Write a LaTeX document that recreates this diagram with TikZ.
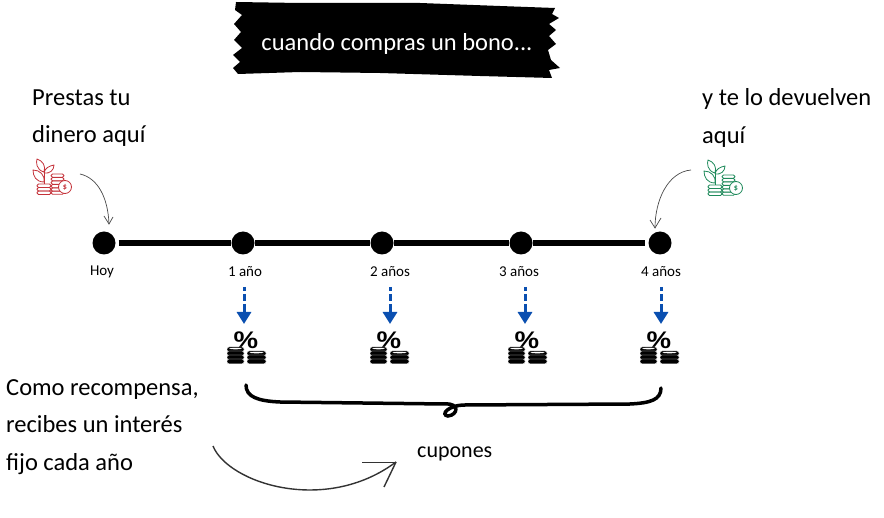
\documentclass[tikz,border=0pt]{standalone}
\usepackage{fontspec}
\setmainfont{Carlito}
\newfontfamily\percentfont{Liberation Sans}
\usetikzlibrary{arrows.meta}
\definecolor{iconred}{HTML}{C4323A}
\definecolor{icongreen}{HTML}{1F8A5B}
\definecolor{dropblue}{HTML}{0A4FB0}
\definecolor{sketchgray}{HTML}{4A4A4A}
\tikzset{
  bigtext/.style={anchor=west,align=left,font=\fontsize{24.5}{37.5}\selectfont,inner sep=0pt},
  yeartext/.style={font=\fontsize{15}{18}\selectfont,inner sep=0pt},
  dot/.style={circle,fill=black,minimum size=23,inner sep=0pt},
  drop/.style={dropblue,line width=3,dash pattern=on 4pt off 3pt on 7pt off 3pt on 30pt,-{Triangle[length=12,width=14]}},
  sketch/.style={sketchgray,line width=0.7},
  pics/plantcoins/.style={code={
    \begin{scope}[#1,line width=0.8,line join=round]
      % plant
      \draw (10,26) -- (10,10);
      \draw (10,14) .. controls (2,12) and (2,4) .. (3,1) .. controls (9,3) and (12,8) .. (10,14);
      \draw (10,24) .. controls (2,24) and (-1,18) .. (-1,12) .. controls (6,12) and (11,17) .. (10,24);
      \draw (10,15) .. controls (11,10) and (15,8) .. (20,7) .. controls (20,12) and (16,16) .. (10,15);
      % coins
      \foreach \cy in {26,29.5,33}
        \draw[rounded corners=1.5] (3,\cy) rectangle (17,\cy+3.5);
      \foreach \cy in {16,19.5,23,26.5,30,33}
        \draw[rounded corners=1.5] (17,\cy) rectangle (30,\cy+3.3);
      \draw[fill=white] (31,29) circle (6.5);
      \node[font=\fontsize{8}{8}\selectfont\bfseries,text=#1,inner sep=0pt] at (31,29) {\$};
    \end{scope}
  }},
  pics/percentcoins/.style={code={
    \node[xscale=1.15,font=\fontsize{24}{24}\selectfont\bfseries\percentfont,inner sep=0pt] at (0,-6.5) {\%};
    \foreach \cy in {0,4,8,12}
      \draw[fill=black,draw=white,line width=0.4,rounded corners=2] (-19,\cy) rectangle (-2,\cy+4.8);
    \foreach \cy in {4,8,12}
      \draw[fill=black,draw=white,line width=0.4,rounded corners=2] (1,\cy) rectangle (20,\cy+4.8);
    \fill[white] (-10.5,1.6) ellipse (6.5 and 0.7);
    \fill[white] (10.5,5.6) ellipse (7 and 0.7);
  }}
}
\begin{document}
\begin{tikzpicture}[x=1pt,y=-1pt]
  \useasboundingbox (0,0) rectangle (884,518);
  % banner
  \fill (236,2) -- (300,3) -- (420,3) -- (500,6) -- (555,8) -- (552,14) -- (559,18) -- (549,24) -- (556,30)
    -- (549,36) -- (556,44) -- (548,50) -- (551,60) -- (560,68) -- (549,70) -- (552,78) -- (480,76) -- (380,73)
    -- (300,72) -- (238,74) -- (233,68) -- (240,62) -- (233,55) -- (242,48) -- (234,40) -- (241,32) -- (234,24)
    -- (242,15) -- (235,10) -- cycle;
  \node[text=white,font=\fontsize{24.5}{30}\selectfont,inner sep=0pt] (banner) at (397,44) {cuando compras un bono...};
  % texts
  \node[bigtext] (prestas) at (32,118) {Prestas tu\\dinero aquí};
  \node[bigtext] (devuelven) at (702,118) {y te lo devuelven\\aquí};
  \node[bigtext] (recompensa) at (6,427) {Como recompensa,\\recibes un interés\\fijo cada año};
  \node[anchor=west,font=\fontsize{22}{26}\selectfont,inner sep=0pt] (cupones) at (417,454) {cupones};
  % timeline
  \node[dot] (hoy) at (104,243) {};
  \node[dot] (uno) at (243,243) {};
  \node[dot] (dos) at (382,243) {};
  \node[dot] (tres) at (521,243) {};
  \node[dot] (cuatro) at (660,243) {};
  \draw[line width=6,shorten <=3pt] (hoy) -- (uno);
  \draw[line width=6] (uno) -- (dos) -- (tres);
  \draw[line width=6,shorten >=3pt] (tres) -- (cuatro);
  \node[yeartext] (lhoy) at (102,272) {Hoy};
  \node[yeartext] (luno) at (245,272) {1 año};
  \node[yeartext] (ldos) at (390,272) {2 años};
  \node[yeartext] (ltres) at (519,272) {3 años};
  \node[yeartext] (lcuatro) at (661,272) {4 años};
  % blue arrows
  \foreach \name/\px in {a/244,b/390,c/525,d/661} {
    \coordinate (top\name) at (\px,287);
    \coordinate (end\name) at (\px,324);
    \draw[drop] (top\name) -- (end\name);
  }
  % icons
  \pic at (246,347) {percentcoins};
  \pic at (389,347) {percentcoins};
  \pic at (527,347) {percentcoins};
  \pic at (659,347) {percentcoins};
  \pic at (34,158) {plantcoins=iconred};
  \pic at (705,159) {plantcoins=icongreen};
  % brace
  \draw[line width=3.5,line cap=round] (246,385) .. controls (246,397) and (258,401) .. (280,402)
    -- (445,404) .. controls (460,403) and (458,415) .. (448,416) .. controls (440,415) and (448,405) .. (465,405)
    -- (630,404) .. controls (650,403) and (661,400) .. (661,388);
  % sketch arrows
  \coordinate (sa) at (80,174);
  \coordinate (sb) at (109,224);
  \draw[sketch] (sa) .. controls (98,178) and (108,198) .. (sb);
  \draw[sketch] (104,216) -- (sb) -- (113,217);
  \coordinate (sc) at (691,170);
  \coordinate (sd) at (655,228);
  \draw[sketch] (sc) .. controls (668,172) and (655,200) .. (sd);
  \draw[sketch] (650,220) -- (sd) -- (661,218);
  \coordinate (se) at (213,446);
  \coordinate (sf) at (396,462);
  \draw[black!80,line width=1.4] (se) .. controls (228,483) and (325,515) .. (sf);
  \draw[black!80,line width=0.8] (362,462) -- (sf);
  \draw[black!80,line width=1.4] (sf) -- (384,487);
\end{tikzpicture}
\end{document}
